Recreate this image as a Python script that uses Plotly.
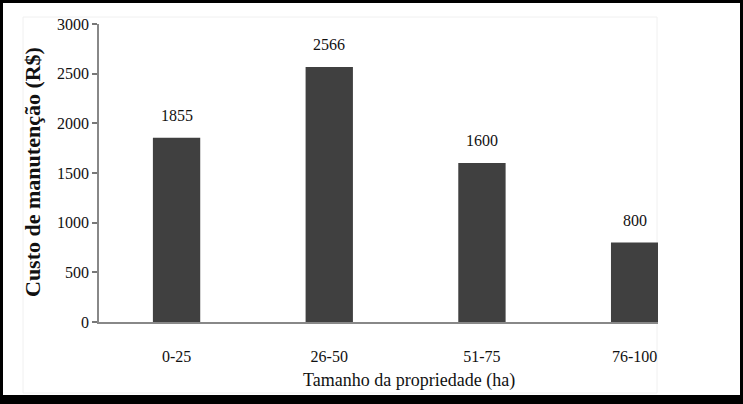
import plotly.graph_objects as go

categories = ["0-25", "26-50", "51-75", "76-100"]
values = [1855, 2566, 1600, 800]
y_ticks = [0, 500, 1000, 1500, 2000, 2500, 3000]

W, H = 743, 404
L, R, T, B = 99, 85, 24, 82
pw, ph = W - L - R, H - T - B

def px(x):
    return (x - L) / pw

def py(y):
    return (H - B - y) / ph

font = "Liberation Serif"

fig = go.Figure()
fig.add_trace(go.Bar(
    x=list(range(len(categories))), y=values,
    marker=dict(color="#404040", line=dict(width=0)),
    width=0.31,
))

for i, v in enumerate(values):
    fig.add_annotation(x=i, y=v, text=str(v), showarrow=False,
                       yanchor="bottom", yshift=12,
                       font=dict(family=font, size=16, color="#111"))

shapes = []
# faint outer plot frame
shapes.append(dict(type="rect", xref="paper", yref="paper",
                   x0=px(23), x1=px(657), y0=py(393), y1=py(17),
                   line=dict(color="#f0f0f0", width=1), layer="below"))
# black border
for (x0, x1, y0, y1) in [(0, 3, 0, H), (740, W, 0, H), (0, W, 0, 3), (0, W, 395, H)]:
    shapes.append(dict(type="rect", xref="paper", yref="paper",
                       x0=px(x0), x1=px(x1), y0=py(y1), y1=py(y0),
                       fillcolor="black", line=dict(width=0)))

fig.add_annotation(xref="paper", yref="paper", x=px(409), y=py(380),
                   xanchor="center", yanchor="middle",
                   text="Tamanho da propriedade (ha)", showarrow=False,
                   font=dict(family=font, size=18, color="#111"))
fig.add_annotation(xref="paper", yref="paper", x=px(33), y=py(172),
                   xanchor="center", yanchor="middle",
                   text="<b>Custo de manutenção (R$)</b>", showarrow=False,
                   textangle=-90,
                   font=dict(family=font, size=22, color="#111"))

fig.update_layout(
    width=W, height=H,
    margin=dict(l=L, r=R, t=T, b=B),
    paper_bgcolor="white", plot_bgcolor="white",
    showlegend=False,
    shapes=shapes,
    xaxis=dict(
        range=[-0.508, 3.153],
        tickvals=list(range(len(categories))), ticktext=categories,
        showgrid=False, zeroline=False,
        showline=True, linecolor="#888", linewidth=2,
        ticks="", ticklabelstandoff=19,
        tickfont=dict(family=font, size=16, color="#111"),
    ),
    yaxis=dict(
        range=[0, 3000], tickvals=y_ticks,
        showgrid=False, zeroline=False,
        showline=True, linecolor="#888", linewidth=1.5,
        ticks="outside", ticklen=5, tickcolor="#777", tickwidth=1.5,
        ticksuffix="\u00a0",
        tickfont=dict(family=font, size=16, color="#111"),
    ),
)

fig.write_html("out.html", config={"displayModeBar": False},
               post_script="document.body.style.margin='0';document.body.style.overflow='hidden';")
